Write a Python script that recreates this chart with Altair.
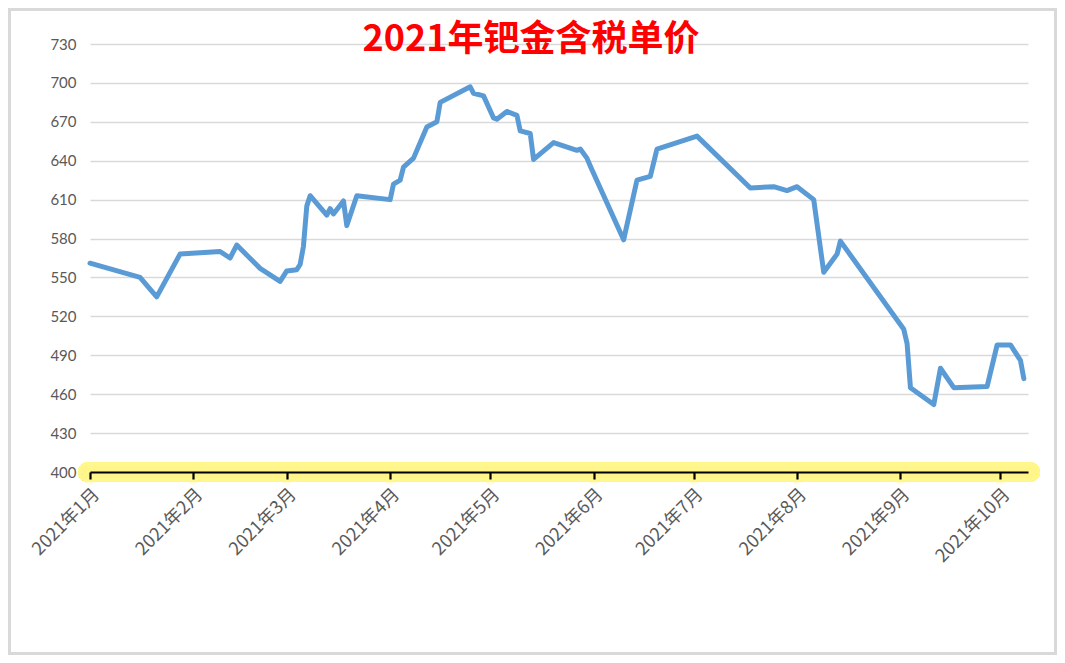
import altair as alt
import pandas as pd

dates = [
    "2021-01-01", "2021-01-16", "2021-01-21", "2021-01-28", "2021-02-09", "2021-02-12",
    "2021-02-14", "2021-02-21", "2021-02-27", "2021-03-01", "2021-03-04", "2021-03-05",
    "2021-03-06", "2021-03-07", "2021-03-08", "2021-03-13", "2021-03-14", "2021-03-15",
    "2021-03-18", "2021-03-19", "2021-03-22", "2021-04-01", "2021-04-02", "2021-04-04",
    "2021-04-05", "2021-04-08", "2021-04-12", "2021-04-15", "2021-04-16", "2021-04-25",
    "2021-04-26", "2021-04-29", "2021-05-02", "2021-05-03", "2021-05-06", "2021-05-09",
    "2021-05-10", "2021-05-13", "2021-05-14", "2021-05-20", "2021-05-27", "2021-05-28",
    "2021-05-30", "2021-05-31", "2021-06-10", "2021-06-14", "2021-06-18", "2021-06-20",
    "2021-07-02", "2021-07-18", "2021-07-25", "2021-07-29", "2021-08-01", "2021-08-06",
    "2021-08-09", "2021-08-13", "2021-08-14", "2021-09-02", "2021-09-03", "2021-09-04",
    "2021-09-11", "2021-09-13", "2021-09-17", "2021-09-27", "2021-09-30", "2021-10-04",
    "2021-10-07", "2021-10-08",
]
prices = [
    561, 550, 535, 568, 570, 565,
    575, 557, 547, 555, 556, 560,
    574, 605, 613, 598, 603, 599,
    609, 590, 613, 610, 622, 625,
    635, 642, 666, 670, 685, 697,
    692, 690, 673, 672, 678, 675,
    663, 661, 641, 654, 648, 649,
    642, 636, 579, 625, 628, 649,
    659, 619, 620, 617, 620, 610,
    554, 568, 578, 510, 499, 465,
    452, 480, 465, 466, 498, 498,
    486, 472,
]
y_ticks = [400, 430, 460, 490, 520, 550, 580, 610, 640, 670, 700, 730]
month_ticks = [1, 2, 3, 4, 5, 6, 7, 8, 9, 10]
title_text = "2021年钯金含税单价"

df = pd.DataFrame({"date": dates, "price": prices})
ticks_df = pd.DataFrame({"date": ["2021-%02d-01" % m for m in month_ticks]})

W, H = 938, 428
TOTAL_W, TOTAL_H = 1049, 647
PAD_L, PAD_T = 82, 36

x_scale = alt.Scale(
    type="utc",
    domain=[alt.DateTime(year=2021, month=1, date=1, utc=True),
            alt.DateTime(year=2021, month=10, date=9, hours=6, utc=True)],
    nice=False,
)
y_scale = alt.Scale(domain=[400, 730], nice=False, zero=False)

x_axis = alt.Axis(
    values=[alt.DateTime(year=2021, month=m, date=1, utc=True) for m in month_ticks],
    labelExpr="utcyear(datum.value) + '年' + (utcmonth(datum.value) + 1) + '月'",
    labelAngle=-45,
    labelFont="Noto Sans CJK SC",
    labelFontSize=18,
    labelColor="#595959",
    labelPadding=6,
    labelOverlap=False,
    domainColor="#000000",
    domainWidth=2.2,
    tickColor="#000000",
    tickWidth=2.2,
    tickSize=7,
    grid=False,
    title=None,
    zindex=2,
)
y_axis = alt.Axis(
    values=y_ticks,
    labelFont="Lato",
    labelFontSize=15,
    labelColor="#595959",
    labelPadding=14,
    domain=False,
    ticks=False,
    grid=True,
    gridColor="#d9d9d9",
    gridWidth=1.6,
    title=None,
)

base = alt.Chart(df)

glows = []
for sw, op in [(20, 0.22), (13, 0.3), (7, 0.4)]:
    glows.append(
        base.mark_rule(color="#fff68c", opacity=op, strokeWidth=sw, strokeCap="round").encode(
            x=alt.value(-2), x2=alt.value(W + 2), y=alt.value(H)
        )
    )

tick_glow = alt.Chart(ticks_df).mark_circle(color="#fff68c", opacity=0.3, size=130).encode(
    x=alt.X("date:T", scale=x_scale), y=alt.value(H + 7)
)

line = base.mark_line(color="#5b9bd5", strokeWidth=5, strokeJoin="round", strokeCap="round").encode(
    x=alt.X("date:T", scale=x_scale, axis=x_axis),
    y=alt.Y("price:Q", scale=y_scale, axis=y_axis),
)

title = alt.Chart(pd.DataFrame({"t": [title_text]})).mark_text(
    font="Noto Sans CJK SC", fontSize=36, fontWeight="bold", color="#ff0000",
    align="center", baseline="middle",
).encode(x=alt.value(441), y=alt.value(-4), text="t:N")

border = alt.Chart(pd.DataFrame({"a": [0]})).mark_rect(
    fill=None, stroke="#d9d9d9", strokeWidth=3
).encode(
    x=alt.value(-PAD_L + 1.5), x2=alt.value(TOTAL_W - PAD_L - 1.5),
    y=alt.value(-PAD_T + 1.5), y2=alt.value(TOTAL_H - PAD_T - 1.5),
)

chart = alt.layer(border, *glows, tick_glow, line, title).properties(
    width=W, height=H,
    autosize=alt.AutoSizeParams(type="none"),
    padding={"left": PAD_L, "top": PAD_T, "right": TOTAL_W - PAD_L - W, "bottom": TOTAL_H - PAD_T - H},
    background="white",
).configure_view(strokeWidth=0)

chart.save("out.html", embed_options={"renderer": "svg", "actions": False})
